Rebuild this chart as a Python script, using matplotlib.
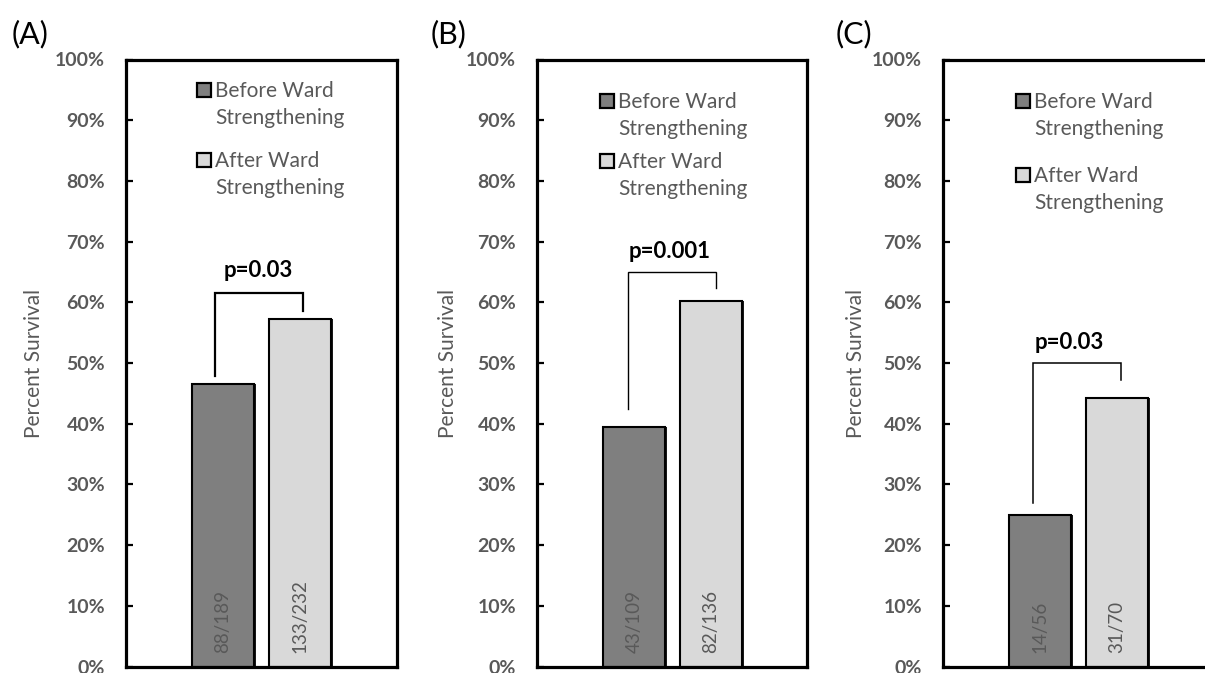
import matplotlib
matplotlib.use("Agg")
import matplotlib.pyplot as plt
import matplotlib.transforms as mtransforms
from matplotlib.patches import Rectangle
from matplotlib.ticker import PercentFormatter

# ---------------- data ----------------
panel_labels = ["(A)", "(B)", "(C)"]
series_lines = [["Before Ward", "Strengthening"], ["After Ward", "Strengthening"]]
before_survived = [88, 43, 14]
before_total = [189, 109, 56]
after_survived = [133, 82, 31]
after_total = [232, 136, 70]
p_values = ["p=0.03", "p=0.001", "p=0.03"]
y_ticks = [0, 10, 20, 30, 40, 50, 60, 70, 80, 90, 100]

# ---------------- style / layout ----------------
FONT = ["Lato", "DejaVu Sans"]
plt.rcParams["font.family"] = FONT
GRAY_TXT = "#595959"
DARK = "#7f7f7f"
LIGHT = "#d9d9d9"

W, H = 1205, 673
fig = plt.figure(figsize=(W / 100, H / 100), dpi=100)

ax_left_px = [126, 537, 943]
ax_w_px = [271, 270, 270]
ax_top_px, ax_bot_px = 59.5, 666.5
AX_H = ax_bot_px - ax_top_px
fig_label_x_px = [12, 431, 836]
ylabel_x = [-0.303, -0.293, -0.285]
# legend: marker-left (axes frac), baseline of entry 1, entry 2
legend_pos = [(0.262, 0.938, 0.823), (0.233, 0.920, 0.821), (0.270, 0.920, 0.798)]
LINE_GAP_PX = 27
# bracket: left x offset, right x offset, top, left-leg bottom, right-leg bottom, lw
brackets = [(-0.11, 1.04, 61.5, 47.8, 58.5, 1.6),
            (-0.08, 1.06, 65.0, 42.4, 62.3, 1.0),
            (-0.09, 1.05, 50.0, 27.0, 47.2, 1.1)]
p_pos = [(0.454, 65.3), (0.467, 68.3), (0.376, 53.4)]

for i in range(3):
    l = ax_left_px[i] / W
    w = ax_w_px[i] / W
    b = 1 - ax_bot_px / H
    h = AX_H / H
    ax = fig.add_axes([l, b, w, h])

    vals = [before_survived[i] / before_total[i] * 100,
            after_survived[i] / after_total[i] * 100]
    texts = [f"{before_survived[i]}/{before_total[i]}",
             f"{after_survived[i]}/{after_total[i]}"]
    colors = [DARK, LIGHT]
    xs = [0, 1]
    # subtle right-hand shadow like the original
    shadow_tr = ax.transData + mtransforms.ScaledTranslation(2 / 100, 0, fig.dpi_scale_trans)
    ax.bar(xs, vals, width=0.8, color="#1a1a1a", linewidth=0,
           zorder=2.5, transform=shadow_tr)
    ax.bar(xs, vals, width=0.8, color=colors, edgecolor="black",
           linewidth=1.5, zorder=3)
    for x, t in zip(xs, texts):
        ax.text(x, 2.2, t, rotation=90, ha="center", va="bottom",
                fontsize=13.5, color=GRAY_TXT, zorder=4)

    ax.set_ylim(0, 100)
    ax.set_xlim(-1.26, -1.26 + ax_w_px[i] / 77.0)
    ax.set_yticks(y_ticks)
    ax.yaxis.set_major_formatter(PercentFormatter(decimals=0))
    ax.set_xticks([])
    ax.tick_params(axis="y", direction="in", length=5, width=1.6,
                   pad=15, labelsize=14, labelcolor=GRAY_TXT, color="black")
    for lab in ax.get_yticklabels():
        lab.set_fontweight("bold")
    for s in ax.spines.values():
        s.set_linewidth(2.3)
        s.set_color("black")
        s.set_zorder(7)

    ax.set_ylabel("Percent Survival", fontsize=15, color=GRAY_TXT)
    ax.yaxis.set_label_coords(ylabel_x[i], 0.5)

    # bracket
    xl, xr, top, lb, rb, lw = brackets[i]
    ax.plot([xl, xl, xr, xr], [lb, top, top, rb], color="black", lw=lw,
            zorder=5, solid_joinstyle="miter")
    px, py = p_pos[i]
    ax.text(px, py, p_values[i], ha="center", va="center", fontsize=16,
            fontweight="bold", color="black", zorder=5)

    # legend (manual)
    mx, y1, y2 = legend_pos[i]
    mw = 14 / ax_w_px[i]
    mh = 14 / AX_H
    for yb, c, lines in [(y1, DARK, series_lines[0]), (y2, LIGHT, series_lines[1])]:
        ax.add_patch(Rectangle((mx, yb), mw, mh, transform=ax.transAxes,
                               facecolor=c, edgecolor="black", lw=1.6,
                               zorder=6, clip_on=False))
        for k, line in enumerate(lines):
            ax.text(mx + 18 / ax_w_px[i], yb - k * LINE_GAP_PX / AX_H, line,
                    transform=ax.transAxes, ha="left", va="baseline",
                    fontsize=15, color=GRAY_TXT, zorder=6)

    fig.text(fig_label_x_px[i] / W, 1 - 34.5 / H, panel_labels[i],
             ha="left", va="center", fontsize=22, color="black")

fig.savefig("out.png", dpi=100)
